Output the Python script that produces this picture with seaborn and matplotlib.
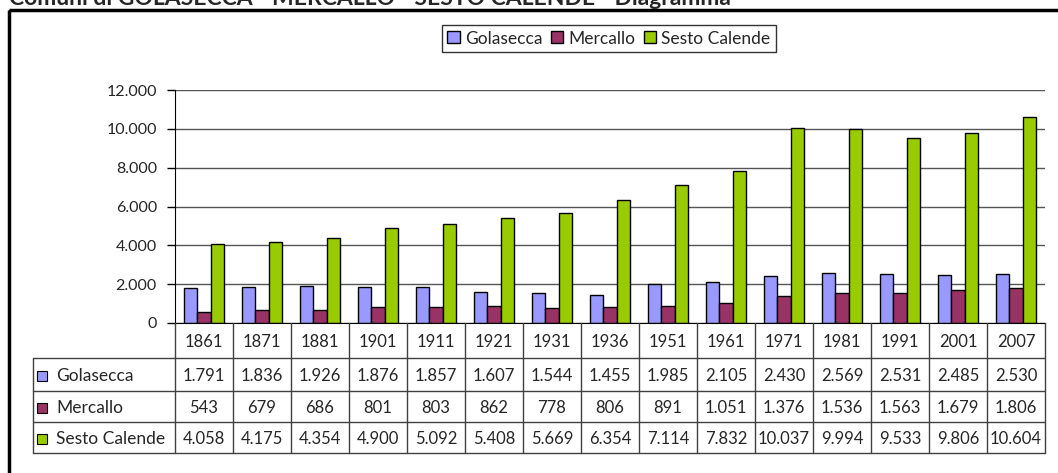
import pandas as pd
import seaborn as sns
import matplotlib.pyplot as plt
from matplotlib.patches import Rectangle
from matplotlib import transforms

# Data
anni = ["1861", "1871", "1881", "1901", "1911", "1921", "1931", "1936",
        "1951", "1961", "1971", "1981", "1991", "2001", "2007"]
golasecca = [1791, 1836, 1926, 1876, 1857, 1607, 1544, 1455, 1985, 2105, 2430, 2569, 2531, 2485, 2530]
mercallo = [543, 679, 686, 801, 803, 862, 778, 806, 891, 1051, 1376, 1536, 1563, 1679, 1806]
sesto = [4058, 4175, 4354, 4900, 5092, 5408, 5669, 6354, 7114, 7832, 10037, 9994, 9533, 9806, 10604]
comuni = ["Golasecca", "Mercallo", "Sesto Calende"]
colori = {"Golasecca": "#9999FF", "Mercallo": "#993366", "Sesto Calende": "#99CC00"}
titolo = "Comuni di GOLASECCA - MERCALLO - SESTO CALENDE - Diagramma"
yticks = [0, 2000, 4000, 6000, 8000, 10000, 12000]


def fmt(v):
    return f"{v:,}".replace(",", ".")


serie = {"Golasecca": golasecca, "Mercallo": mercallo, "Sesto Calende": sesto}
df = pd.concat([pd.DataFrame({"Anno": anni, "Comune": c, "Abitanti": v}) for c, v in serie.items()])

sns.set_style("white")
plt.rcParams["font.family"] = ["Lato", "DejaVu Sans"]

W, H = 1058, 473
fig = plt.figure(figsize=(W / 100, H / 100), dpi=100)
ax = fig.add_axes([175 / W, 1 - 323 / H, 870 / W, 233 / H])

sns.barplot(data=df, x="Anno", y="Abitanti", hue="Comune", hue_order=comuni, palette=colori,
            width=0.69, gap=0, edgecolor="black", linewidth=1, saturation=1, ax=ax)
handles, labels = ax.get_legend_handles_labels()
ax.get_legend().remove()

ax.set_xlim(-0.5, len(anni) - 0.5)
ax.set_ylim(0, 12000)
ax.set_yticks(yticks)
ax.set_yticklabels([fmt(v) for v in yticks], fontsize=11.5)
ax.set_xticks([])
ax.set_xlabel("")
ax.set_ylabel("")
ax.yaxis.grid(True, color="#555555", lw=1)
ax.set_axisbelow(True)
ax.tick_params(axis="y", left=True, length=6, width=1, color="black", pad=7)
for s in ["top", "right"]:
    ax.spines[s].set_visible(False)
ax.spines["left"].set_color("black")
ax.spines["bottom"].set_color("black")

# overlay in pixel coordinates for table, frame and title
ov = fig.add_axes([0, 0, 1, 1], zorder=5)
ov.set_xlim(0, W)
ov.set_ylim(H, 0)
ov.axis("off")
ov.patch.set_alpha(0)
bt = transforms.blended_transform_factory(ax.transData, ov.transData)

rows = [323, 358, 391, 422, 453]
lc = "#404040"
for k in range(len(anni) + 1):
    ov.plot([k - 0.5, k - 0.5], [rows[0], rows[-1]], color=lc, lw=1, transform=bt)
for y in rows[1:]:
    ov.plot([33, 1045], [y, y], color=lc, lw=1)
ov.plot([33, 33], [rows[1], rows[-1]], color=lc, lw=1)

for i, a in enumerate(anni):
    ov.text(i, (rows[0] + rows[1]) / 2 + 1, a, ha="center", va="center", fontsize=12, transform=bt)
for r, c in enumerate(comuni):
    yc = (rows[r + 1] + rows[r + 2]) / 2 + 1
    ov.add_patch(Rectangle((37, yc - 5), 10, 10, facecolor=colori[c], edgecolor="black", lw=0.8))
    ov.text(56, yc, c, ha="left", va="center", fontsize=12.5)
    for i, v in enumerate(serie[c]):
        ov.text(i, yc, fmt(v), ha="center", va="center", fontsize=12, transform=bt)

ov.add_patch(Rectangle((9, 10), 1100, 500, fill=False, edgecolor="black", lw=2.5, clip_on=False))
ov.text(9, 5, titolo, ha="left", va="baseline", fontsize=16.5, fontweight="bold")

fig.legend(handles, labels, loc="center", bbox_to_anchor=(609 / W, 1 - 38.5 / H), ncol=3,
           frameon=True, fancybox=False, edgecolor="#333333", framealpha=1, fontsize=12.5,
           handlelength=0.7, handleheight=0.7, handletextpad=0.3, columnspacing=0.5,
           borderpad=0.3)

fig.savefig("out.png", dpi=100)
